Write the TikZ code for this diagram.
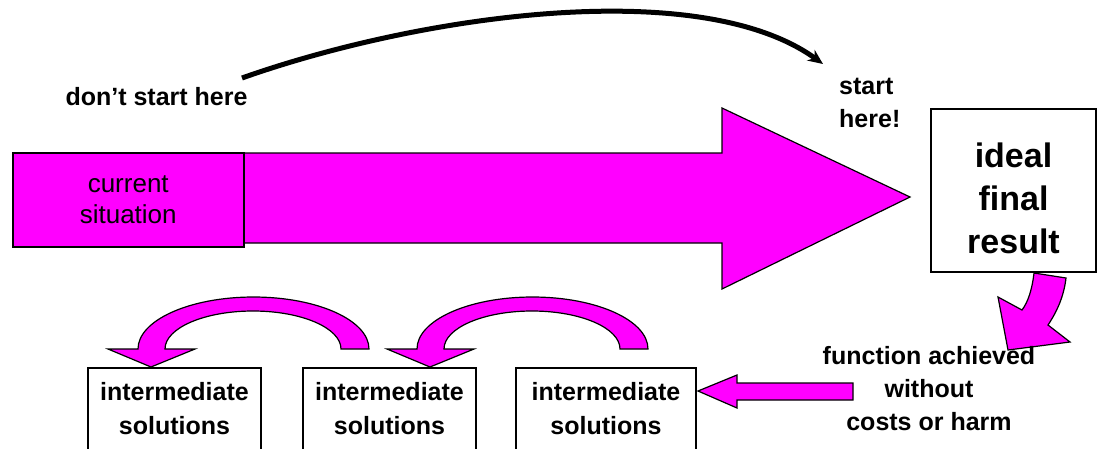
\documentclass[tikz,border=0pt]{standalone}
\usepackage{fontspec}
\setmainfont{Liberation Sans}
\usetikzlibrary{arrows.meta,calc}
\definecolor{mag}{HTML}{FF00FF}
\tikzset{
  blockarrow/.style={fill=mag,draw=black,line width=1.2pt,line join=miter},
  box/.style={draw=black,line width=2pt,fill=white,inner sep=0pt},
  lbl/.style={font=\fontsize{25}{33}\selectfont\bfseries,align=center,inner sep=0pt},
  ilbl/.style={font=\fontsize{25}{34}\selectfont\bfseries,align=center,inner sep=0pt},
}
\begin{document}
\begin{tikzpicture}[x=1pt,y=-1pt]
\useasboundingbox (0,0) rectangle (1105,448);
% big arrow
\draw[blockarrow] (243,153) -- (722,153) -- (722,108) -- (910,197) -- (722,289) -- (722,243) -- (243,243) -- cycle;
\node[box, fill=mag, line width=1.5pt, minimum width=231pt, minimum height=94pt, anchor=north west,
  label={[font=\fontsize{26}{31}\selectfont, align=center, inner sep=0pt]center:current\\situation}] (cur) at (12,152) {};
% ideal final result
\node[box, minimum width=165pt, minimum height=163pt, anchor=north west,
  label={[font=\fontsize{34}{43}\selectfont\bfseries, align=center, inner sep=0pt, yshift=-8pt]center:ideal\\final\\result}] (ifr) at (930,108) {};
% intermediate boxes
\node[box, minimum width=173pt, minimum height=90pt, anchor=north west,
  label={[ilbl, yshift=4pt]center:intermediate\\solutions}] (i1) at (87,367) {};
\node[box, minimum width=173pt, minimum height=90pt, anchor=north west,
  label={[ilbl, yshift=4pt]center:intermediate\\solutions}] (i2) at (302,367) {};
\node[box, minimum width=180pt, minimum height=90pt, anchor=north west,
  label={[ilbl, yshift=4pt]center:intermediate\\solutions}] (i3) at (515,367) {};
% curved magenta arrows
\draw[blockarrow] (369,349) .. controls (369,320.3) and (317.3,297) .. (253.5,297)
  .. controls (189.7,297) and (138,320.3) .. (138,349) -- (108,349) -- (151,367) -- (195,349) -- (165,349)
  .. controls (165,328) and (204.4,311) .. (253,311) .. controls (301.6,311) and (341,328) .. (341,349) -- cycle;
\draw[blockarrow] (648,349) .. controls (648,320.3) and (596.3,297) .. (532.5,297)
  .. controls (468.7,297) and (417,320.3) .. (417,349) -- (387,349) -- (430,367) -- (474,349) -- (444,349)
  .. controls (444,328) and (483.4,311) .. (532,311) .. controls (580.6,311) and (620,328) .. (620,349) -- cycle;
% left arrow
\draw[blockarrow] (853,383) -- (737,383) -- (737,375) -- (698,391) -- (737,408) -- (737,400) -- (853,400) -- cycle;
% small curved arrow from ideal final result
\draw[blockarrow] (1034,273) .. controls (1032,290) and (1028,302) .. (1022,310) -- (998,297) -- (1008,350)
  -- (1070,342) -- (1048,325) .. controls (1058,310) and (1064,295) .. (1066,278) -- cycle;
% texts
\node[lbl, anchor=base] (dsh) at (156.5,105) {don’t start here};
\node[lbl, anchor=west, align=left] (sh) at (839,103) {start\\here!};
\node[lbl] (fa) at (929,388.5) {function achieved\\without\\costs or harm};
% top curved arrow
\coordinate (c1) at (242,78);
\coordinate (c2) at (823,64);
\draw[line width=5pt, -{Stealth[length=15pt,width=13pt]}] (c1) .. controls (420,15) and (700,-25) .. (c2);
\end{tikzpicture}
\end{document}
